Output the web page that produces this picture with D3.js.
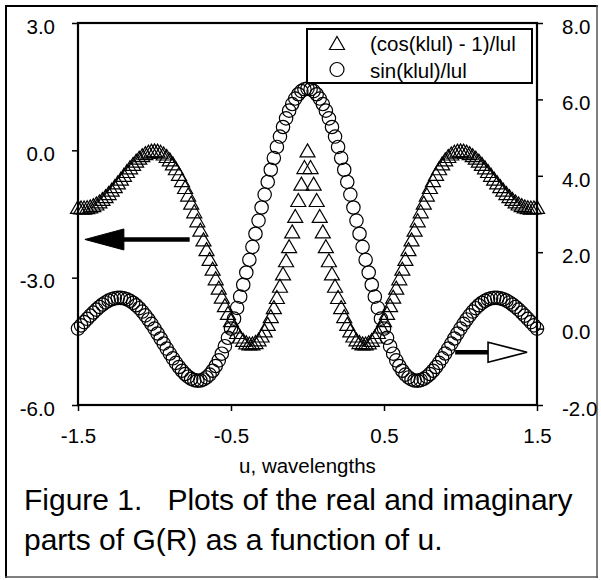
<!DOCTYPE html>
<html>
<head>
<meta charset="utf-8">
<script src="https://cdn.jsdelivr.net/npm/d3@7"></script>
<style>
  html, body { margin: 0; padding: 0; background: #fff; }
  svg text { font-family: "Liberation Sans", Arial, sans-serif; fill: #000; }
</style>
</head>
<body>
<svg id="chart" width="601" height="580"></svg>
<script>
// u, in wavelengths
const uValues = [
  -1.50, -1.48, -1.46, -1.44, -1.42, -1.40, -1.38, -1.36, -1.34, -1.32,
  -1.30, -1.28, -1.26, -1.24, -1.22, -1.20, -1.18, -1.16, -1.14, -1.12,
  -1.10, -1.08, -1.06, -1.04, -1.02, -1.00, -0.98, -0.96, -0.94, -0.92,
  -0.90, -0.88, -0.86, -0.84, -0.82, -0.80, -0.78, -0.76, -0.74, -0.72,
  -0.70, -0.68, -0.66, -0.64, -0.62, -0.60, -0.58, -0.56, -0.54, -0.52,
  -0.50, -0.48, -0.46, -0.44, -0.42, -0.40, -0.38, -0.36, -0.34, -0.32,
  -0.30, -0.28, -0.26, -0.24, -0.22, -0.20, -0.18, -0.16, -0.14, -0.12,
  -0.10, -0.08, -0.06, -0.04, -0.02, 0.00, 0.02, 0.04, 0.06, 0.08,
  0.10, 0.12, 0.14, 0.16, 0.18, 0.20, 0.22, 0.24, 0.26, 0.28,
  0.30, 0.32, 0.34, 0.36, 0.38, 0.40, 0.42, 0.44, 0.46, 0.48,
  0.50, 0.52, 0.54, 0.56, 0.58, 0.60, 0.62, 0.64, 0.66, 0.68,
  0.70, 0.72, 0.74, 0.76, 0.78, 0.80, 0.82, 0.84, 0.86, 0.88,
  0.90, 0.92, 0.94, 0.96, 0.98, 1.00, 1.02, 1.04, 1.06, 1.08,
  1.10, 1.12, 1.14, 1.16, 1.18, 1.20, 1.22, 1.24, 1.26, 1.28,
  1.30, 1.32, 1.34, 1.36, 1.38, 1.40, 1.42, 1.44, 1.46, 1.48,
  1.50
];

// (cos(k|u|) - 1)/|u|, read on the left axis
const realPart = [
  -1.333, -1.346, -1.348, -1.340, -1.321, -1.292, -1.253, -1.204, -1.146, -1.080,
  -1.007, -0.928, -0.843, -0.756, -0.666, -0.576, -0.487, -0.400, -0.318, -0.242,
  -0.174, -0.115, -0.066, -0.030, -0.008, 0.000, -0.008, -0.033, -0.075, -0.134,
  -0.212, -0.308, -0.422, -0.553, -0.700, -0.864, -1.042, -1.233, -1.436, -1.649,
  -1.870, -2.097, -2.327, -2.558, -2.789, -3.015, -3.235, -3.446, -3.646, -3.831,
  -4.000, -4.150, -4.280, -4.386, -4.467, -4.523, -4.550, -4.548, -4.517, -4.456,
  -4.363, -4.241, -4.088, -3.905, -3.694, -3.455, -3.190, -2.901, -2.590, -2.259,
  -1.910, -1.546, -1.170, -0.785, -0.394, 0.000, -0.394, -0.785, -1.170, -1.546,
  -1.910, -2.259, -2.590, -2.901, -3.190, -3.455, -3.694, -3.905, -4.088, -4.241,
  -4.363, -4.456, -4.517, -4.548, -4.550, -4.523, -4.467, -4.386, -4.280, -4.150,
  -4.000, -3.831, -3.646, -3.446, -3.235, -3.015, -2.789, -2.558, -2.327, -2.097,
  -1.870, -1.649, -1.436, -1.233, -1.042, -0.864, -0.700, -0.553, -0.422, -0.308,
  -0.212, -0.134, -0.075, -0.033, -0.008, 0.000, -0.008, -0.030, -0.066, -0.115,
  -0.174, -0.242, -0.318, -0.400, -0.487, -0.576, -0.666, -0.756, -0.843, -0.928,
  -1.007, -1.080, -1.146, -1.204, -1.253, -1.292, -1.321, -1.340, -1.348, -1.346,
  -1.333
];

// sin(k|u|)/|u|, read on the right axis
const imagPart = [
  0.000, 0.085, 0.170, 0.256, 0.339, 0.420, 0.496, 0.567, 0.630, 0.685,
  0.732, 0.767, 0.792, 0.805, 0.805, 0.793, 0.767, 0.728, 0.676, 0.611,
  0.534, 0.446, 0.347, 0.239, 0.123, 0.000, -0.128, -0.259, -0.392, -0.524,
  -0.653, -0.778, -0.896, -1.005, -1.103, -1.189, -1.259, -1.313, -1.349, -1.364,
  -1.359, -1.331, -1.279, -1.204, -1.104, -0.980, -0.831, -0.657, -0.461, -0.241,
  0.000, 0.261, 0.541, 0.837, 1.147, 1.469, 1.801, 2.140, 2.483, 2.828,
  3.170, 3.508, 3.839, 4.158, 4.465, 4.755, 5.027, 5.277, 5.504, 5.705,
  5.878, 6.022, 6.135, 6.217, 6.267, 6.283, 6.267, 6.217, 6.135, 6.022,
  5.878, 5.705, 5.504, 5.277, 5.027, 4.755, 4.465, 4.158, 3.839, 3.508,
  3.170, 2.828, 2.483, 2.140, 1.801, 1.469, 1.147, 0.837, 0.541, 0.261,
  0.000, -0.241, -0.461, -0.657, -0.831, -0.980, -1.104, -1.204, -1.279, -1.331,
  -1.359, -1.364, -1.349, -1.313, -1.259, -1.189, -1.103, -1.005, -0.896, -0.778,
  -0.653, -0.524, -0.392, -0.259, -0.128, 0.000, 0.123, 0.239, 0.347, 0.446,
  0.534, 0.611, 0.676, 0.728, 0.767, 0.793, 0.805, 0.805, 0.792, 0.767,
  0.732, 0.685, 0.630, 0.567, 0.496, 0.420, 0.339, 0.256, 0.170, 0.085,
  0.000
];

const xTicks = [-1.5, -0.5, 0.5, 1.5];
const leftTicks = [-6, -3, 0, 3];
const rightTicks = [-2, 0, 2, 4, 6, 8];
const seriesNames = ["(cos(klul) - 1)/lul", "sin(klul)/lul"];
const xTitle = "u, wavelengths";
const captionLines = ["Figure 1.   Plots of the real and imaginary", "parts of G(R) as a function of u."];

// arrows pointing each series to its axis: [u start, u tip, value]
const leftArrow = [-0.77, -1.455, -2.1];
const rightArrow = [0.965, 1.435, -0.62];

const svg = d3.select("#chart");
const font = '"Liberation Sans", Arial, sans-serif';
const labelSize = 20.5;

// outer frame around the figure and its caption
svg.append("line").attr("x1", 6).attr("y1", 5).attr("x2", 6).attr("y2", 578)
  .attr("stroke", "#000").attr("stroke-width", 2);
svg.append("line").attr("x1", 5).attr("y1", 6).attr("x2", 598).attr("y2", 6)
  .attr("stroke", "#000").attr("stroke-width", 2);
svg.append("line").attr("x1", 597).attr("y1", 5).attr("x2", 597).attr("y2", 578)
  .attr("stroke", "#555").attr("stroke-width", 1.5);
svg.append("line").attr("x1", 5).attr("y1", 577).attr("x2", 598).attr("y2", 577)
  .attr("stroke", "#555").attr("stroke-width", 1.5);

const x0 = 78, x1 = 537, y0 = 23, y1 = 405;
const x = d3.scaleLinear().domain([-1.5, 1.5]).range([x0, x1]);
const yL = d3.scaleLinear().domain([-6, 3]).range([y1, y0]);
const yR = d3.scaleLinear().domain([-2, 8]).range([y1, y0]);
const fmt = d => d.toFixed(1);

function styleAxis(g) {
  g.select(".domain").remove();
  g.selectAll(".tick line").attr("stroke", "#000").attr("stroke-width", 1.5);
  g.selectAll(".tick text").attr("font-family", font).attr("font-size", labelSize).attr("fill", "#000");
}

svg.append("g").attr("transform", `translate(${x0},0)`)
  .call(d3.axisLeft(yL).tickValues(leftTicks).tickFormat(fmt).tickSize(6).tickPadding(17))
  .call(styleAxis)
  .call(g => g.selectAll(".tick text").attr("dy", "0.5em"));

svg.append("g").attr("transform", `translate(${x1},0)`)
  .call(d3.axisRight(yR).tickValues(rightTicks).tickFormat(fmt).tickSize(6).tickPadding(19))
  .call(styleAxis)
  .call(g => g.selectAll(".tick text").attr("dy", "0.5em"));

svg.append("g").attr("transform", `translate(0,${y1})`)
  .call(d3.axisBottom(x).tickValues(xTicks).tickFormat(fmt).tickSize(6).tickPadding(17))
  .call(styleAxis);

const pts = uValues.map((u, i) => ({ u, re: realPart[i], im: imagPart[i] }));

// triangle marker centred on its box
const tri = "M0,-6.5L7.5,6.5L-7.5,6.5Z";

svg.append("g").selectAll("path").data(pts).join("path")
  .attr("d", tri)
  .attr("transform", d => `translate(${x(d.u)},${yL(d.re)})`)
  .attr("fill", "none").attr("stroke", "#000").attr("stroke-width", 1.2);

svg.append("g").selectAll("circle").data(pts).join("circle")
  .attr("cx", d => x(d.u)).attr("cy", d => yR(d.im)).attr("r", 6.7)
  .attr("fill", "none").attr("stroke", "#000").attr("stroke-width", 1.2);

// plot frame
svg.append("rect").attr("x", x0).attr("y", y0).attr("width", x1 - x0).attr("height", y1 - y0)
  .attr("fill", "none").attr("stroke", "#000").attr("stroke-width", 2.2);

// left arrow: solid head
{
  const [uA, uB, v] = leftArrow;
  const ya = yL(v), xa = x(uA), xb = x(uB);
  svg.append("line").attr("x1", xa).attr("y1", ya).attr("x2", xb + 30).attr("y2", ya)
    .attr("stroke", "#000").attr("stroke-width", 4.5);
  svg.append("path").attr("d", `M${xb},${ya}L${xb + 39},${ya - 10.5}L${xb + 39},${ya + 10.5}Z`)
    .attr("fill", "#000").attr("stroke", "#000").attr("stroke-width", 1);
}
// right arrow: hollow head
{
  const [uA, uB, v] = rightArrow;
  const ya = yR(v), xa = x(uA), xb = x(uB);
  svg.append("line").attr("x1", xa).attr("y1", ya).attr("x2", xb - 39).attr("y2", ya)
    .attr("stroke", "#000").attr("stroke-width", 4.5);
  svg.append("path").attr("d", `M${xb},${ya}L${xb - 39},${ya - 10}L${xb - 39},${ya + 10}Z`)
    .attr("fill", "#fff").attr("stroke", "#000").attr("stroke-width", 1.6);
}

// legend
const lg = svg.append("g");
lg.append("rect").attr("x", 307).attr("y", 29).attr("width", 225).attr("height", 54)
  .attr("fill", "#fff").attr("stroke", "#000").attr("stroke-width", 2);
lg.append("path").attr("d", tri).attr("transform", "translate(337,43)")
  .attr("fill", "none").attr("stroke", "#000").attr("stroke-width", 1.2);
lg.append("circle").attr("cx", 337).attr("cy", 69.5).attr("r", 7)
  .attr("fill", "none").attr("stroke", "#000").attr("stroke-width", 1.2);
lg.selectAll("text").data(seriesNames).join("text")
  .attr("x", 370).attr("y", (d, i) => 51 + i * 27)
  .attr("font-size", labelSize).text(d => d);

// x axis title
svg.append("text").attr("x", (x0 + x1) / 2).attr("y", 473).attr("text-anchor", "middle")
  .attr("font-size", labelSize).text(xTitle);

// caption
svg.append("g").selectAll("text").data(captionLines).join("text")
  .attr("x", 24).attr("y", (d, i) => 510 + i * 40)
  .attr("font-size", 30).style("white-space", "pre").text(d => d);
</script>
</body>
</html>
